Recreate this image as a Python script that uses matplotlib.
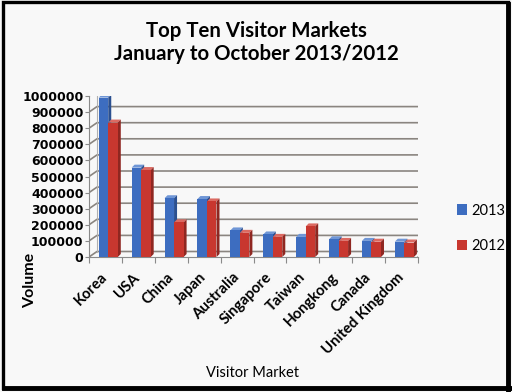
import matplotlib
matplotlib.use("Agg")
import matplotlib.pyplot as plt
import numpy as np
from matplotlib.patches import Polygon, Rectangle, Patch
from matplotlib.lines import Line2D
from matplotlib.transforms import IdentityTransform

categories = ["Korea", "USA", "China", "Japan", "Australia", "Singapore",
              "Taiwan", "Hongkong", "Canada", "United Kingdom"]
v2013 = [990000, 555000, 365000, 360000, 165000, 140000, 125000, 110000, 100000, 95000]
v2012 = [835000, 540000, 215000, 345000, 150000, 125000, 190000, 100000, 95000, 90000]
series_labels = ["2013", "2012"]
yticks = list(range(0, 1000001, 100000))

W, H = 512, 392
fig = plt.figure(figsize=(W / 100, H / 100), dpi=100)
fig.patch.set_facecolor("#f8f8f8")

ax = fig.add_axes([89 / W, 1 - 257 / H, (418 - 89) / W, (257 - 96) / H])
ax.set_xlim(-0.5, len(categories) - 0.5)
ax.set_ylim(0, 1000000)
ax.patch.set_alpha(0)
for s in ax.spines.values():
    s.set_visible(False)
ax.spines["left"].set_visible(True)
ax.spines["bottom"].set_visible(True)
ax.spines["left"].set_color("#8a8a8a")
ax.spines["bottom"].set_color("#8a8a8a")

ident = IdentityTransform()
wall = np.array([8.0, 5.5])
grid_c = "#8a8580"

# gridlines on back wall + left wall diagonals
xl, xr = -0.5, len(categories) - 0.5
for yv in yticks:
    p0 = ax.transData.transform((xl, yv))
    p2 = ax.transData.transform((xr, yv)) + wall
    p1 = p0 + wall
    ax.add_line(Line2D([p0[0], p1[0], p2[0]], [p0[1], p1[1], p2[1]],
                       transform=ident, color=grid_c, lw=1.2, zorder=1))
# floor right edge
q0 = ax.transData.transform((xr, 0))
q1 = q0 + wall
ax.add_line(Line2D([q0[0], q1[0]], [q0[1], q1[1]], transform=ident,
                   color=grid_c, lw=1.0, zorder=1))
# back wall left edge
b0 = ax.transData.transform((xl, 0)) + wall
b1 = ax.transData.transform((xl, 1000000)) + wall
ax.add_line(Line2D([b0[0], b1[0]], [b0[1], b1[1]], transform=ident,
                   color="#b0b0b0", lw=0.8, zorder=1))

blue = ("#3d6dc0", "#6f96d6", "#2b5090")
red = ("#c8372f", "#dc6a62", "#8f2721")
bw = 0.29
depth = np.array([3.0, 3.0])
x = np.arange(len(categories))

def draw_bar(xc, val, cols):
    x0, x1 = xc - bw / 2, xc + bw / 2
    fl = ax.transData.transform((x0, val))
    fr = ax.transData.transform((x1, val))
    br = ax.transData.transform((x1, 0))
    top = [fl, fr, fr + depth, fl + depth]
    side = [br, fr, fr + depth, br + depth]
    ax.add_patch(Polygon(top, closed=True, transform=ident, fc=cols[1], ec="none", zorder=3))
    ax.add_patch(Polygon(side, closed=True, transform=ident, fc=cols[2], ec="none", zorder=3))
    ax.bar(xc, val, width=bw, color=cols[0], zorder=4)

for i in range(len(categories)):
    draw_bar(x[i] - 0.06, v2013[i], blue)
    draw_bar(x[i] + 0.23, v2012[i], red)

ax.set_yticks(yticks)
ax.set_yticklabels([str(v) for v in yticks], fontfamily="DejaVu Sans",
                   fontweight="bold", fontsize=9)
ax.tick_params(axis="y", length=3, width=0.8, color="#8a8a8a", pad=1)

ax.set_xticks(x)
ax.set_xticklabels(categories, rotation=45, ha="right", rotation_mode="anchor",
                   va="center", fontfamily="Lato", fontweight="bold", fontsize=10.7)
ax.tick_params(axis="x", which="major", length=0, pad=13)
ax.set_xticks(np.arange(-0.5, len(categories)), minor=True)
ax.tick_params(axis="x", which="minor", length=4, width=0.8, color="#8a8a8a")

fig.text(256 / W, 1 - 42.5 / H, "Top Ten Visitor Markets\nJanuary to October 2013/2012",
         ha="center", va="center", fontfamily="Lato", fontweight="bold",
         fontsize=14.7, linespacing=1.2)
fig.text(253 / W, 1 - 373 / H, "Visitor Market", ha="center", va="center",
         fontfamily="Lato", fontsize=10.5)
fig.text(30 / W, 1 - 280 / H, "Volume", ha="center", va="center", rotation=90,
         fontfamily="Lato", fontweight="bold", fontsize=11.5)

handles = [Patch(fc=blue[0]), Patch(fc=red[0])]
fig.legend(handles, series_labels, loc="center left", bbox_to_anchor=(0.866, 1 - 228.5 / H),
           frameon=False, handlelength=0.7, handleheight=0.7, handletextpad=0.3,
           labelspacing=1.5, prop={"family": "Lato", "size": 10.5})

# frame
fig.add_artist(Rectangle((2.5 / W, 1 - 388 / H), 505 / W, 386 / H, transform=fig.transFigure,
                         fill=False, ec="black", lw=2.4))
fig.add_artist(Line2D([507.5 / W, 507.5 / W], [1 - 390 / H, 1 - 4 / H],
                      transform=fig.transFigure, color="black", lw=3.5))
fig.add_artist(Line2D([4 / W, 510 / W], [1 - 388 / H, 1 - 388 / H],
                      transform=fig.transFigure, color="black", lw=3.5))

fig.savefig("out.png", dpi=100, facecolor=fig.get_facecolor())
